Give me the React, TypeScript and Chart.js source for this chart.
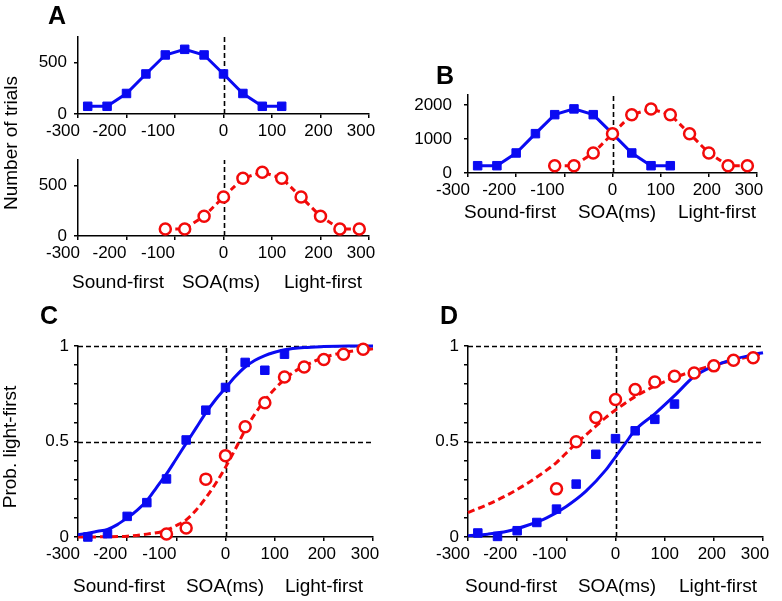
import React, { useEffect, useRef } from 'react';
import { Chart, registerables } from 'chart.js';

Chart.register(...registerables);

const W = 782;
const H = 601;
const BLUE = '#0a0af2';
const RED = '#f20a0a';
const FONT = '"Liberation Sans", Arial, Helvetica, sans-serif';
const Y_SCALE_W = 60;

// ---------- data ----------
const SOA_SOUND_FIRST_BLOCK = [-280, -240, -200, -160, -120, -80, -40, 0, 40, 80, 120];
const SOA_LIGHT_FIRST_BLOCK = [-120, -80, -40, 0, 40, 80, 120, 160, 200, 240, 280];

const COUNTS_A_BLUE = [75, 75, 200, 390, 575, 630, 575, 390, 200, 75, 75];
const COUNTS_A_RED = [70, 70, 195, 385, 570, 630, 570, 385, 195, 70, 70];
const COUNTS_B_BLUE = [215, 215, 590, 1160, 1720, 1890, 1720, 1160, 590, 215, 215];
const COUNTS_B_RED = [215, 215, 590, 1160, 1720, 1890, 1720, 1160, 590, 215, 215];

const PROB_C_BLUE = [0.0, 0.017, 0.108, 0.18, 0.304, 0.508, 0.664, 0.783, 0.914, 0.873, 0.957];
const PROB_C_RED = [0.016, 0.047, 0.303, 0.426, 0.577, 0.703, 0.838, 0.89, 0.929, 0.957, 0.983];
const PROB_D_BLUE = [0.021, 0.003, 0.033, 0.076, 0.146, 0.277, 0.433, 0.515, 0.556, 0.616, 0.696];
const PROB_D_RED = [0.252, 0.499, 0.626, 0.72, 0.772, 0.812, 0.842, 0.859, 0.896, 0.925, 0.939];

const FIT_C_BLUE_X = [-300, -280, -260, -240, -220, -200, -180, -160, -140, -120, -100, -80, -60, -40, -20, 0, 20, 40, 60, 80, 100, 120, 160, 200, 250, 300];
const FIT_C_BLUE_Y = [0.012, 0.02, 0.03, 0.04, 0.065, 0.1, 0.14, 0.19, 0.26, 0.33, 0.41, 0.49, 0.57, 0.65, 0.72, 0.78, 0.84, 0.89, 0.925, 0.95, 0.967, 0.98, 0.992, 0.997, 1.0, 1.0];
const FIT_C_RED_X = [-300, -250, -200, -160, -120, -100, -80, -60, -40, -20, 0, 20, 40, 60, 80, 100, 120, 140, 160, 200, 240, 280, 300];
const FIT_C_RED_Y = [0.0, 0.001, 0.004, 0.015, 0.035, 0.06, 0.09, 0.14, 0.205, 0.28, 0.365, 0.46, 0.56, 0.645, 0.715, 0.775, 0.825, 0.865, 0.895, 0.94, 0.965, 0.98, 0.985];
const FIT_D_BLUE_X = [-300, -260, -220, -180, -140, -100, -60, -20, 0, 20, 40, 80, 120, 160, 200, 240, 280, 300];
const FIT_D_BLUE_Y = [0.007, 0.015, 0.03, 0.06, 0.1, 0.16, 0.24, 0.35, 0.42, 0.49, 0.56, 0.645, 0.74, 0.84, 0.895, 0.93, 0.955, 0.965];
const FIT_D_RED_X = [-300, -260, -220, -180, -140, -120, -100, -80, -60, -40, -20, 0, 40, 80, 120, 160, 200, 240, 280, 300];
const FIT_D_RED_Y = [0.128, 0.17, 0.22, 0.28, 0.35, 0.39, 0.44, 0.49, 0.535, 0.58, 0.625, 0.665, 0.735, 0.79, 0.835, 0.87, 0.9, 0.925, 0.948, 0.958];

const X_TICKS = [-300, -200, -100, 0, 100, 200, 300];
const X_TICK_LABELS = ['-300', '-200', '-100', '0', '100', '200', '300'];
const COUNT_TICKS_A = [0, 500];
const COUNT_TICK_LABELS_A = ['0', '500'];
const COUNT_TICKS_B = [0, 1000, 2000];
const COUNT_TICK_LABELS_B = ['0', '1000', '2000'];
const PROB_TICKS = [0, 0.1, 0.2, 0.3, 0.4, 0.5, 0.6, 0.7, 0.8, 0.9, 1];
const PROB_TICK_LABELS = ['0', '', '', '', '', '0.5', '', '', '', '', '1'];

const AXIS_LABELS = ['Sound-first', 'SOA(ms)', 'Light-first'];
const TITLE_COUNT = 'Number of trials';
const TITLE_PROB = 'Prob. light-first';

// label horizontal nudges (style only)
const X_LABEL_SHIFT = [-15, -17, -17, 0, 0, -2, -8];

const xy = (xs: number[], ys: number[]) => xs.map((x, i) => ({ x, y: ys[i] }));

type TextItem = { text: string; x: number; y: number; font: string; rotate?: boolean };

const decoPlugin = {
  id: 'deco',
  beforeDatasetsDraw(chart: any, _a: any, opts: any) {
    const ctx = chart.ctx;
    const xs = chart.scales.x;
    const ys = chart.scales.y;
    ctx.save();
    ctx.strokeStyle = '#000';
    ctx.lineWidth = 1.6;
    ctx.setLineDash([5, 3]);
    (opts.h || []).forEach((v: number) => {
      const y = Math.round(ys.getPixelForValue(v)) + 0.5;
      ctx.beginPath();
      ctx.moveTo(xs.left, y);
      ctx.lineTo(xs.right, y);
      ctx.stroke();
    });
    (opts.v || []).forEach((v: number) => {
      const x = Math.round(xs.getPixelForValue(v)) + 0.5;
      ctx.beginPath();
      ctx.moveTo(x, ys.bottom);
      ctx.lineTo(x, ys.top);
      ctx.stroke();
    });
    ctx.restore();
  },
  afterDraw(chart: any, _a: any, opts: any) {
    const ctx = chart.ctx;
    const xs = chart.scales.x;
    ctx.save();
    ctx.fillStyle = '#000';
    ctx.textAlign = 'center';
    ctx.textBaseline = 'middle';
    ctx.font = `17px ${FONT}`;
    X_TICKS.forEach((v, i) => {
      ctx.fillText(X_TICK_LABELS[i], xs.getPixelForValue(v) + X_LABEL_SHIFT[i], opts.tickY);
    });
    (opts.texts || []).forEach((t: TextItem) => {
      ctx.save();
      ctx.font = t.font;
      ctx.translate(t.x, t.y);
      if (t.rotate) ctx.rotate(-Math.PI / 2);
      ctx.fillText(t.text, 0, 0);
      ctx.restore();
    });
    ctx.restore();
  },
};

type Panel = {
  area: [number, number, number, number];
  yMax: number;
  yTicks: number[];
  yTickLabels: string[];
  yPad: number;
  datasets: any[];
  h: number[];
  v: number[];
  tickY: number;
  texts: TextItem[];
};

const labelFont = `19px ${FONT}`;
const letterFont = `bold 25px ${FONT}`;

const bottomLabels = (xs: number[], y: number): TextItem[] =>
  AXIS_LABELS.map((t, i) => ({ text: t, x: xs[i], y, font: labelFont }));

const squareSet = (data: any[], line: boolean) => ({
  data,
  showLine: line,
  borderColor: BLUE,
  backgroundColor: BLUE,
  pointBackgroundColor: BLUE,
  pointBorderColor: BLUE,
  pointStyle: 'rect',
  pointRadius: 6,
  pointBorderWidth: 1,
  borderWidth: 3,
  tension: 0,
  clip: false,
});

const circleSet = (data: any[], line: boolean) => ({
  data,
  showLine: line,
  borderColor: RED,
  backgroundColor: '#fff',
  pointBackgroundColor: '#fff',
  pointBorderColor: RED,
  pointStyle: 'circle',
  pointRadius: 5.5,
  pointBorderWidth: 2.5,
  borderWidth: 3,
  borderDash: [6, 4],
  tension: 0,
  clip: false,
});

const curveSet = (data: any[], color: string, dash: number[]) => ({
  data,
  showLine: true,
  borderColor: color,
  borderWidth: 3,
  borderDash: dash,
  pointRadius: 0,
  cubicInterpolationMode: 'monotone',
  clip: false,
});

const PANELS: Panel[] = [
  {
    area: [78, 37, 369, 114],
    yMax: 750,
    yTicks: COUNT_TICKS_A,
    yTickLabels: COUNT_TICK_LABELS_A,
    yPad: 7,
    datasets: [squareSet(xy(SOA_SOUND_FIRST_BLOCK, COUNTS_A_BLUE), true)],
    h: [],
    v: [0],
    tickY: 131,
    texts: [
      { text: 'A', x: 57, y: 17, font: letterFont },
      { text: TITLE_COUNT, x: 12, y: 143, font: labelFont, rotate: true },
    ],
  },
  {
    area: [78, 160, 369, 236],
    yMax: 750,
    yTicks: COUNT_TICKS_A,
    yTickLabels: COUNT_TICK_LABELS_A,
    yPad: 7,
    datasets: [circleSet(xy(SOA_LIGHT_FIRST_BLOCK, COUNTS_A_RED), true)],
    h: [],
    v: [0],
    tickY: 253,
    texts: bottomLabels([118, 221, 323], 283),
  },
  {
    area: [468, 95, 757, 173],
    yMax: 2300,
    yTicks: COUNT_TICKS_B,
    yTickLabels: COUNT_TICK_LABELS_B,
    yPad: 12,
    datasets: [
      circleSet(xy(SOA_LIGHT_FIRST_BLOCK, COUNTS_B_RED), true),
      squareSet(xy(SOA_SOUND_FIRST_BLOCK, COUNTS_B_BLUE), true),
    ],
    h: [],
    v: [0],
    tickY: 190,
    texts: [{ text: 'B', x: 445, y: 77, font: letterFont }, ...bottomLabels([510, 617, 717], 213)],
  },
  {
    area: [78, 346, 373, 537],
    yMax: 1,
    yTicks: PROB_TICKS,
    yTickLabels: PROB_TICK_LABELS,
    yPad: 5,
    datasets: [
      squareSet(xy(SOA_SOUND_FIRST_BLOCK, PROB_C_BLUE), false),
      circleSet(xy(SOA_LIGHT_FIRST_BLOCK, PROB_C_RED), false),
      curveSet(xy(FIT_C_BLUE_X, FIT_C_BLUE_Y), BLUE, []),
      curveSet(xy(FIT_C_RED_X, FIT_C_RED_Y), RED, [7, 4]),
    ],
    h: [0.5, 1],
    v: [0],
    tickY: 554,
    texts: [
      { text: 'C', x: 49, y: 317, font: letterFont },
      { text: TITLE_PROB, x: 11, y: 447, font: labelFont, rotate: true },
      ...bottomLabels([119, 225, 324], 587),
    ],
  },
  {
    area: [468, 346, 763, 537],
    yMax: 1,
    yTicks: PROB_TICKS,
    yTickLabels: PROB_TICK_LABELS,
    yPad: 5,
    datasets: [
      squareSet(xy(SOA_SOUND_FIRST_BLOCK, PROB_D_BLUE), false),
      circleSet(xy(SOA_LIGHT_FIRST_BLOCK, PROB_D_RED), false),
      curveSet(xy(FIT_D_BLUE_X, FIT_D_BLUE_Y), BLUE, []),
      curveSet(xy(FIT_D_RED_X, FIT_D_RED_Y), RED, [7, 4]),
    ],
    h: [0.5, 1],
    v: [0],
    tickY: 554,
    texts: [{ text: 'D', x: 449, y: 317, font: letterFont }, ...bottomLabels([511, 617, 718], 587)],
  },
];

function makeConfig(p: Panel): any {
  const [l, t, r, b] = p.area;
  return {
    type: 'scatter',
    data: { datasets: p.datasets },
    plugins: [decoPlugin],
    options: {
      responsive: false,
      animation: false,
      devicePixelRatio: 1,
      events: [],
      layout: { padding: { left: l - Y_SCALE_W, top: t, right: W - r, bottom: H - b } },
      plugins: {
        legend: { display: false },
        tooltip: { enabled: false },
        deco: { h: p.h, v: p.v, tickY: p.tickY, texts: p.texts },
      },
      scales: {
        x: {
          type: 'linear',
          position: 'bottom',
          min: -300,
          max: 300,
          afterFit: (s: any) => {
            s.height = 0;
          },
          afterBuildTicks: (s: any) => {
            s.ticks = X_TICKS.map((v) => ({ value: v }));
          },
          ticks: { display: false, autoSkip: false },
          grid: { drawOnChartArea: false, drawTicks: true, tickLength: 4, color: '#000', lineWidth: 1.5 },
          border: { display: true, color: '#000', width: 1.5 },
        },
        y: {
          type: 'linear',
          position: 'left',
          min: 0,
          max: p.yMax,
          afterFit: (s: any) => {
            s.width = Y_SCALE_W;
          },
          afterBuildTicks: (s: any) => {
            s.ticks = p.yTicks.map((v) => ({ value: v }));
          },
          ticks: {
            display: true,
            autoSkip: false,
            color: '#000',
            font: { family: FONT, size: 17 },
            padding: p.yPad,
            callback: (_v: any, i: number) => p.yTickLabels[i],
          },
          grid: { drawOnChartArea: false, drawTicks: true, tickLength: 4, color: '#000', lineWidth: 1.5 },
          border: { display: true, color: '#000', width: 1.5 },
        },
      },
    },
  };
}

function PanelCanvas({ panel }: { panel: Panel }) {
  const ref = useRef<HTMLCanvasElement | null>(null);
  useEffect(() => {
    if (!ref.current) return;
    const chart = new Chart(ref.current, makeConfig(panel));
    return () => chart.destroy();
  }, [panel]);
  return (
    <canvas
      ref={ref}
      width={W}
      height={H}
      style={{ position: 'absolute', left: 0, top: 0, width: W, height: H }}
    />
  );
}

export default function App() {
  return (
    <div style={{ position: 'absolute', left: 0, top: 0, width: W, height: H, background: '#fff', overflow: 'hidden' }}>
      {PANELS.map((p, i) => (
        <PanelCanvas key={i} panel={p} />
      ))}
    </div>
  );
}
